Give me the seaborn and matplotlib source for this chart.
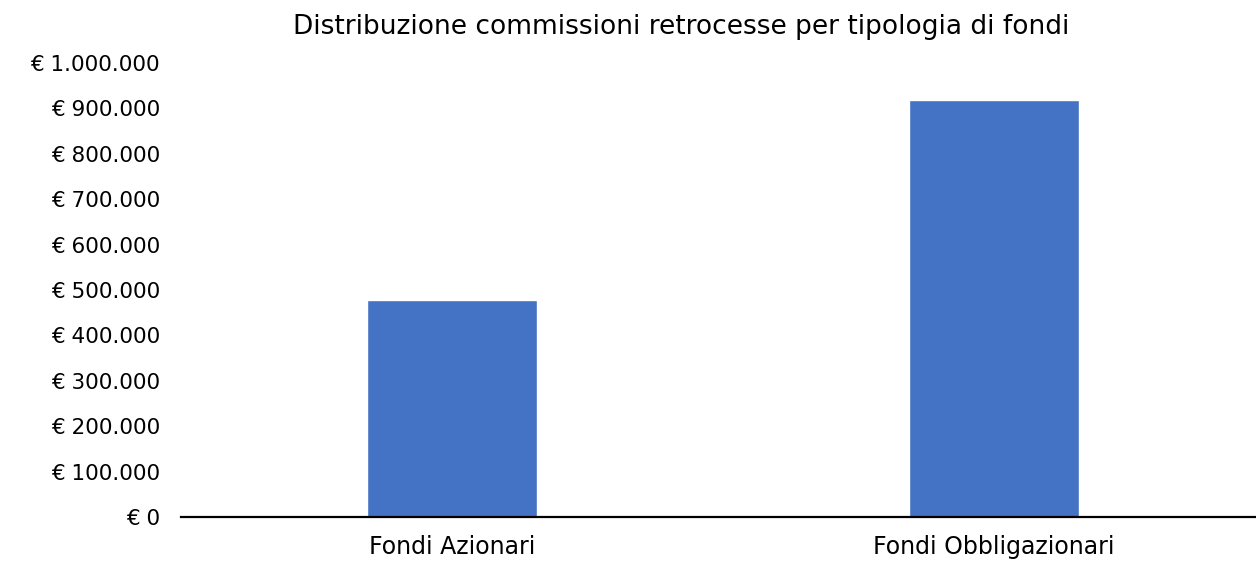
import pandas as pd
import matplotlib.pyplot as plt
import seaborn as sns
from matplotlib.ticker import FuncFormatter

# Data
categories = ['Fondi Azionari', 'Fondi Obbligazionari']
commissioni = [478000, 918000]
title = 'Distribuzione commissioni retrocesse per tipologia di fondi'

df = pd.DataFrame({'tipologia': categories, 'commissioni': commissioni})

sns.set_style('white')
plt.rcParams['font.family'] = ['DejaVu Sans']

fig = plt.figure(figsize=(12.56, 5.61), dpi=100)
ax = fig.add_axes([0.144, 0.0784, 0.863, 0.8093])

sns.barplot(data=df, x='tipologia', y='commissioni', color='#4472C4',
            width=0.314, saturation=1, ax=ax)

ax.set_ylim(0, 1000000)
ax.set_yticks(range(0, 1000001, 100000))


def euro(v, pos):
    return '€ ' + f'{int(v):,}'.replace(',', '.')


ax.yaxis.set_major_formatter(FuncFormatter(euro))
ax.set_xlabel('')
ax.set_ylabel('')
ax.tick_params(axis='both', length=0, colors='#000000')
ax.tick_params(axis='y', pad=15, labelsize=15.5)
ax.tick_params(axis='x', pad=13, labelsize=17)

for s in ['top', 'right', 'left']:
    ax.spines[s].set_visible(False)
ax.spines['bottom'].set_color('black')
ax.spines['bottom'].set_linewidth(1.6)

fig.text(681 / 1256, 1 - 27 / 561, title, ha='center', va='center',
         fontsize=19, color='black')

fig.savefig('out.png', dpi=100)
